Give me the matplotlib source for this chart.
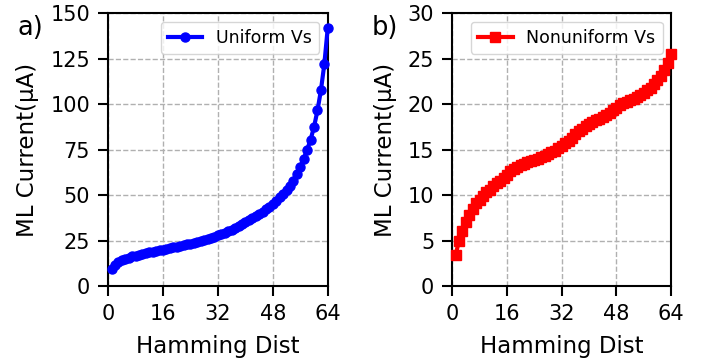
import matplotlib
matplotlib.use("Agg")
import matplotlib.pyplot as plt
import numpy as np

hamming = list(range(1, 65))
uniform_vs = [9.5, 11.8, 13.2, 14.2, 15.0, 15.7, 16.3, 16.8, 17.3, 17.7,
              18.1, 18.5, 18.9, 19.3, 19.7, 20.1, 20.5, 20.9, 21.3, 21.7,
              22.1, 22.5, 22.9, 23.4, 23.8, 24.3, 24.8, 25.3, 25.9, 26.5,
              27.2, 27.9, 28.6, 29.4, 30.2, 31.1, 32.0, 33.0, 34.0, 35.1,
              36.2, 37.3, 38.4, 39.6, 40.8, 42.1, 43.6, 45.2, 46.9, 48.7,
              50.6, 52.6, 55.0, 58.0, 61.5, 65.5, 70.0, 75.0, 80.5, 87.5,
              96.5, 107.5, 122.0, 142.0]
nonuniform_vs = [3.4, 5.0, 6.1, 7.0, 7.8, 8.5, 9.1, 9.5, 9.9, 10.3,
                 10.6, 11.0, 11.3, 11.6, 11.9, 12.2, 12.6, 12.9, 13.1, 13.3,
                 13.4, 13.6, 13.7, 13.9, 14.0, 14.2, 14.3, 14.5, 14.7, 14.9,
                 15.2, 15.4, 15.7, 16.0, 16.3, 16.7, 17.0, 17.3, 17.6, 17.8,
                 18.0, 18.2, 18.4, 18.6, 18.8, 19.0, 19.3, 19.6, 19.9, 20.1,
                 20.25, 20.4, 20.55, 20.8, 21.0, 21.2, 21.5, 21.8, 22.2, 22.6,
                 23.1, 23.7, 24.5, 25.5]
xticks = [0, 16, 32, 48, 64]
yticks_a = [0, 25, 50, 75, 100, 125, 150]
yticks_b = [0, 5, 10, 15, 20, 25, 30]

plt.rcParams['font.family'] = ['DejaVu Sans']

fig = plt.figure(figsize=(7.11, 3.64), dpi=100)
ax1 = fig.add_axes([0.152, 0.214, 0.309, 0.750])
ax2 = fig.add_axes([0.636, 0.214, 0.308, 0.750])

ax1.plot(hamming, uniform_vs, color='blue', marker='o', markersize=6.5,
         linewidth=3, label='Uniform Vs', clip_on=False, zorder=3)
ax2.plot(hamming, nonuniform_vs, color='red', marker='s', markersize=7,
         linewidth=3, label='Nonuniform Vs', clip_on=False, zorder=3)

for ax, yt, ylim in [(ax1, yticks_a, (0, 150)), (ax2, yticks_b, (0, 30))]:
    ax.set_xlim(0, 64)
    ax.set_ylim(*ylim)
    ax.set_xticks(xticks)
    ax.set_yticks(yt)
    ax.grid(True, linestyle='--', color='#b0b0b0', linewidth=1)
    ax.set_axisbelow(True)
    for s in ax.spines.values():
        s.set_linewidth(1.5)
    ax.tick_params(axis='both', labelsize=15, width=1.5, length=7, pad=6)
    ax.set_xlabel('Hamming Dist', fontsize=16.5, labelpad=8)
    ax.set_ylabel('ML Current(μA)', fontsize=16.5, labelpad=8)
    ax.legend(loc='upper right', fontsize=12.5, numpoints=1, handlelength=2)

fig.text(0.025, 0.905, 'a)', fontsize=18.5)
fig.text(0.523, 0.905, 'b)', fontsize=18.5)

fig.savefig('out.png', dpi=100)
